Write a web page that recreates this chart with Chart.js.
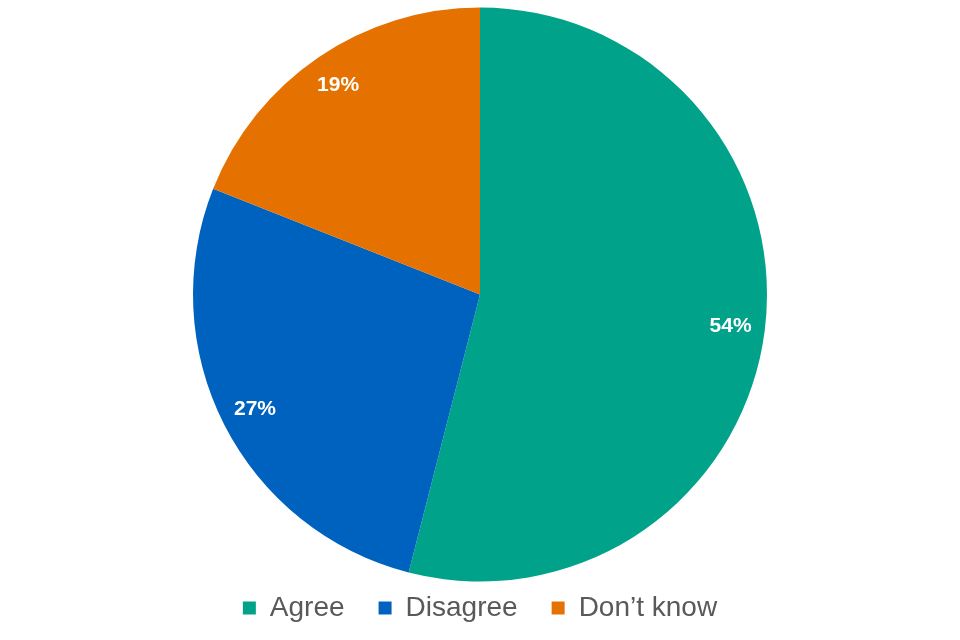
<!DOCTYPE html>
<html>
<head>
<meta charset="utf-8">
<script src="https://cdn.jsdelivr.net/npm/chart.js@4/dist/chart.umd.min.js"></script>
<style>
  html, body { margin: 0; padding: 0; background: #ffffff; }
  #wrap { width: 960px; height: 640px; }
</style>
</head>
<body>
<div id="wrap"><canvas id="chart"></canvas></div>
<script>
const categories = ['Agree', 'Disagree', 'Don\u2019t know']
const shares = [54, 27, 19]
const sliceColours = ['#00A38A', '#0062BF', '#E57200']

// draws the white % labels inside each slice
const sliceLabels = {
    id: 'sliceLabels',
    afterDatasetsDraw(chart) {
        const ctx = chart.ctx
        const meta = chart.getDatasetMeta(0)
        ctx.save()
        ctx.fillStyle = '#ffffff'
        ctx.font = 'bold 21px "Liberation Sans", Arial, sans-serif'
        ctx.textAlign = 'center'
        ctx.textBaseline = 'middle'
        meta.data.forEach(function(arc, i){
            const p = arc.getProps(['x', 'y', 'startAngle', 'endAngle', 'outerRadius'], true)
            const mid = (p.startAngle + p.endAngle) / 2
            const r = p.outerRadius * 0.88
            ctx.fillText(shares[i] + '%', p.x + Math.cos(mid) * r, p.y + Math.sin(mid) * r)
        })
        ctx.restore()
    }
}

new Chart(document.getElementById('chart').getContext('2d'), {
    type: 'pie',
    data: {
        labels: categories,
        datasets: [{
            data: shares,
            backgroundColor: sliceColours,
            borderWidth: 0,
            radius: 287
        }]
    },
    options: {
        responsive: true,
        maintainAspectRatio: false,
        animation: false,
        layout: { padding: { top: 29, bottom: 8 } },
        plugins: {
            tooltip: { enabled: false },
            legend: {
                position: 'bottom',
                labels: {
                    boxWidth: 13,
                    boxHeight: 13,
                    padding: 34,
                    color: '#595959',
                    font: { family: '"Liberation Sans", Arial, sans-serif', size: 28 }
                }
            }
        }
    },
    plugins: [sliceLabels]
});
</script>
</body>
</html>
